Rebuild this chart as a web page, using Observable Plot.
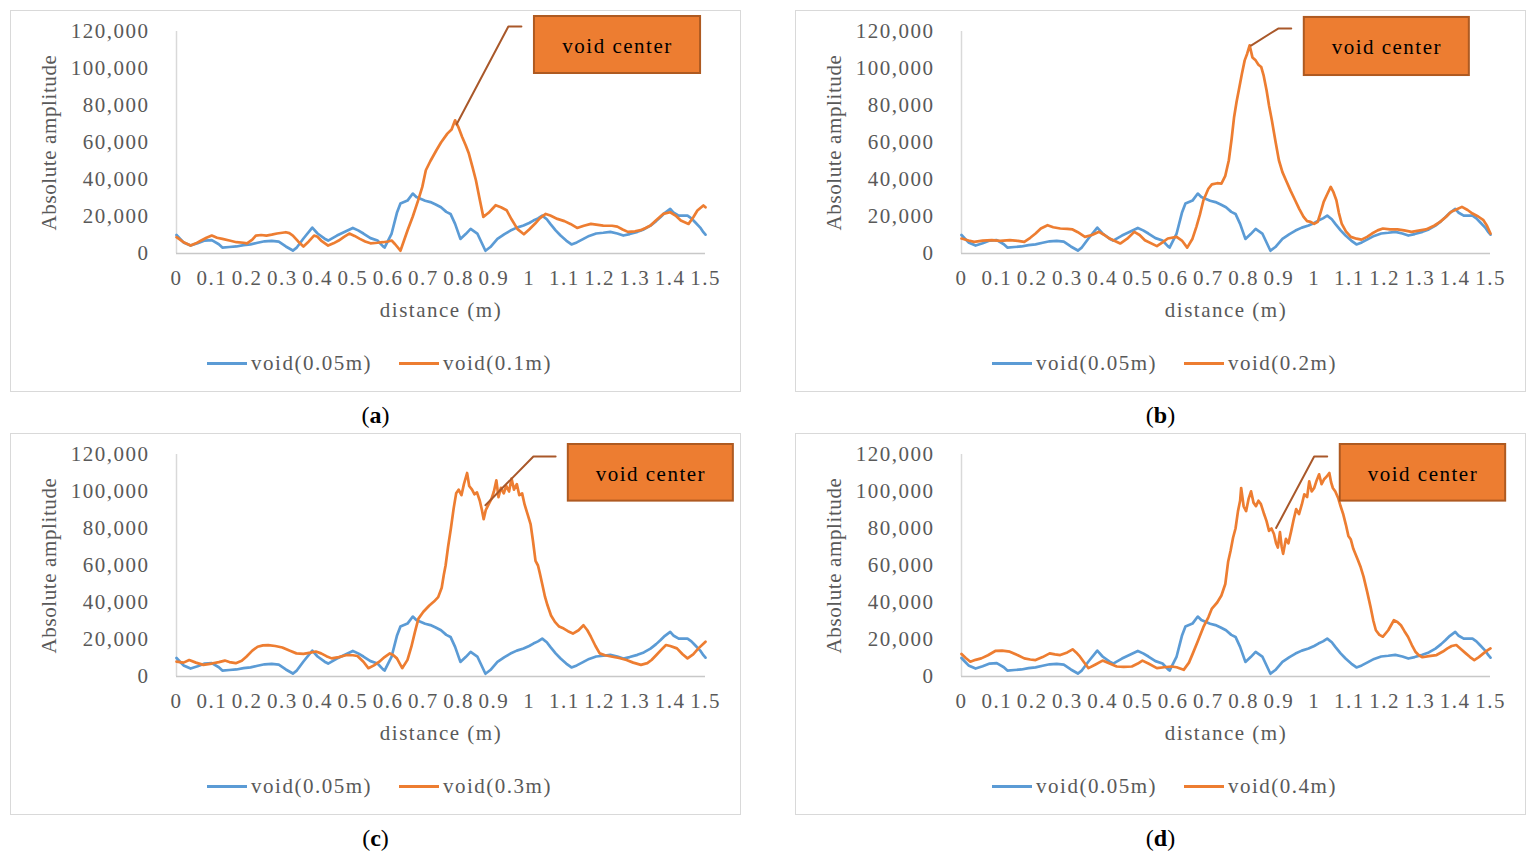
<!DOCTYPE html>
<html>
<head>
<meta charset="utf-8">
<script src="https://cdn.jsdelivr.net/npm/d3@7"></script>
<script src="https://cdn.jsdelivr.net/npm/@observablehq/plot@0.6"></script>
<style>
  html, body { margin: 0; padding: 0; background: #fff; }
  #page { position: relative; width: 1536px; height: 862px; overflow: hidden; font-family: 'Liberation Serif', 'Times New Roman', serif; }
  .frame { position: absolute; box-sizing: border-box; width: 731px; height: 382px; border: 1px solid #d9d9d9; background: #fff; }
  .frame svg { position: absolute; left: 0; top: 0; }
  .legend { position: absolute; left: 0; width: 100%; box-sizing: border-box; padding-left: 8px; top: 340px; height: 24px; display: flex; justify-content: center; align-items: center; gap: 27px; font-size: 21px; letter-spacing: 1.5px; color: #595959; }
  .legend .item { display: flex; align-items: center; }
  .legend .sw { display: inline-block; width: 40px; height: 3px; margin-right: 4px; }
  .plabel { position: absolute; width: 731px; text-align: center; font-size: 24px; color: #000; line-height: 28px; }
</style>
</head>
<body>
<div id="page"></div>
<script>
// ---------------- data ----------------
const xTicks = [0, 0.1, 0.2, 0.3, 0.4, 0.5, 0.6, 0.7, 0.8, 0.9, 1, 1.1, 1.2, 1.3, 1.4, 1.5];
const yTicks = [0, 20000, 40000, 60000, 80000, 100000, 120000];
const panelLetters = ["a", "b", "c", "d"];
const seriesNames = ["void(0.05m)", "void(0.1m)", "void(0.2m)", "void(0.3m)", "void(0.4m)"];

// void(0.05m) — same curve in every panel
const distBlue = [0.00,0.01,0.02,0.04,0.06,0.08,0.10,0.12,0.13,0.15,0.17,0.19,0.21,0.23,0.25,0.27,0.29,0.31,0.33,0.34,0.36,0.385,0.40,0.42,0.43,0.455,0.485,0.50,0.515,0.53,0.55,0.57,0.585,0.59,0.61,0.625,0.635,0.655,0.67,0.68,0.69,0.705,0.72,0.735,0.75,0.765,0.777,0.79,0.805,0.82,0.834,0.853,0.876,0.89,0.91,0.93,0.947,0.965,0.984,1.0,1.012,1.025,1.037,1.05,1.06,1.075,1.089,1.105,1.12,1.135,1.154,1.17,1.19,1.21,1.23,1.25,1.267,1.285,1.307,1.325,1.344,1.36,1.372,1.385,1.40,1.41,1.424,1.449,1.46,1.47,1.485,1.494,1.50];
const ampBlue = [10000,8000,6000,4300,5500,7000,7200,5000,3200,3500,3800,4500,4900,5800,6600,6800,6400,3800,1600,3000,8100,14000,10800,8000,7000,9700,12400,13800,12500,10800,8300,7000,4000,3200,10800,22000,27000,28600,32400,30500,29700,28500,27800,26500,25000,22500,21400,16000,7900,10500,13300,10800,1500,3500,7900,10500,12400,14000,15100,16500,17800,19000,20500,18500,16000,12500,9700,7000,4900,6000,7900,9500,10800,11200,11700,10800,9700,10500,11700,13000,15100,17500,19600,22000,24100,22000,20500,20500,19000,17000,14000,11500,10200];

// void(0.1m)
const dist01 = [0.00,0.01,0.02,0.04,0.055,0.07,0.085,0.10,0.115,0.13,0.15,0.17,0.19,0.20,0.215,0.225,0.24,0.255,0.27,0.285,0.30,0.31,0.32,0.33,0.345,0.36,0.375,0.39,0.40,0.41,0.43,0.445,0.46,0.475,0.49,0.505,0.52,0.535,0.55,0.57,0.585,0.60,0.61,0.62,0.635,0.655,0.67,0.685,0.697,0.707,0.72,0.737,0.75,0.768,0.78,0.79,0.80,0.81,0.82,0.829,0.839,0.849,0.86,0.87,0.885,0.905,0.92,0.936,0.95,0.967,0.985,1.0,1.017,1.03,1.047,1.06,1.08,1.10,1.117,1.136,1.155,1.175,1.19,1.21,1.235,1.25,1.265,1.28,1.30,1.316,1.33,1.344,1.36,1.38,1.40,1.415,1.43,1.452,1.465,1.477,1.494,1.50];
const amp01 = [8800,7500,6100,4300,5500,7000,8500,9700,8500,7900,7000,6100,5800,5500,7500,9700,10000,9700,10200,10800,11200,11500,11000,9700,6500,3800,6500,9700,9000,7000,4300,5500,7000,9000,10800,9500,7900,6500,5500,5800,6100,6500,7000,5000,1500,12400,20000,28600,36000,45000,50000,55800,60000,64800,67000,72000,68000,63000,58500,54000,47000,39600,29000,19800,22000,26100,25000,23400,18500,13200,10400,13000,16200,19000,21400,20500,18700,17500,16000,13800,15000,16000,15600,15100,15000,14500,13000,11700,12000,12600,13800,15100,18000,21400,22300,20500,17800,16000,19500,23200,26000,25000];

// void(0.2m)
const dist02 = [0.00,0.02,0.036,0.06,0.086,0.11,0.137,0.16,0.178,0.195,0.21,0.225,0.244,0.26,0.28,0.30,0.315,0.33,0.35,0.37,0.39,0.405,0.42,0.45,0.47,0.49,0.505,0.52,0.554,0.57,0.585,0.61,0.625,0.64,0.655,0.666,0.676,0.686,0.70,0.71,0.725,0.737,0.748,0.758,0.766,0.773,0.78,0.788,0.795,0.803,0.81,0.817,0.825,0.834,0.842,0.85,0.857,0.865,0.872,0.88,0.89,0.90,0.91,0.92,0.933,0.946,0.958,0.97,0.98,0.99,1.0,1.01,1.018,1.027,1.037,1.047,1.055,1.063,1.07,1.078,1.09,1.104,1.12,1.134,1.15,1.164,1.18,1.195,1.215,1.236,1.255,1.276,1.30,1.317,1.34,1.357,1.375,1.388,1.40,1.419,1.435,1.449,1.465,1.48,1.49,1.50];
const amp02 = [8100,7000,6300,7000,7200,6800,7200,6800,6300,8500,10800,13500,15300,14200,13500,13300,13000,11500,9000,10000,11700,10000,8100,5400,8000,11700,10000,7200,4000,6000,8100,9000,7000,3200,8000,14400,21000,28800,35000,37400,38000,37800,42000,50400,62000,73800,82000,90000,97000,104400,108000,112500,106000,104400,102000,100800,96000,88200,80000,72000,61000,50400,44000,39600,34000,28800,24000,19800,17500,17100,16000,17100,22000,27900,32000,36000,33000,28800,22000,16200,12000,9000,8000,7500,9000,10800,12500,13500,13000,13000,12500,11700,12500,13000,15000,17100,20000,22500,23500,25200,23500,21600,20000,18000,15000,10800];

// void(0.3m)
const dist03 = [0.00,0.02,0.036,0.055,0.076,0.10,0.12,0.137,0.15,0.168,0.185,0.198,0.215,0.23,0.245,0.26,0.28,0.30,0.32,0.34,0.36,0.38,0.395,0.41,0.425,0.44,0.46,0.483,0.50,0.513,0.53,0.544,0.56,0.575,0.59,0.605,0.615,0.625,0.64,0.655,0.666,0.676,0.686,0.70,0.717,0.73,0.742,0.752,0.758,0.763,0.77,0.778,0.786,0.793,0.80,0.808,0.815,0.824,0.83,0.838,0.845,0.852,0.86,0.866,0.871,0.877,0.885,0.893,0.90,0.907,0.913,0.92,0.928,0.935,0.943,0.95,0.957,0.965,0.972,0.98,0.987,0.995,1.004,1.011,1.018,1.025,1.03,1.037,1.045,1.052,1.062,1.073,1.085,1.098,1.11,1.124,1.14,1.154,1.165,1.175,1.188,1.20,1.215,1.236,1.255,1.276,1.295,1.317,1.335,1.347,1.36,1.375,1.388,1.40,1.419,1.435,1.449,1.465,1.48,1.50];
const amp03 = [8000,7500,8900,7500,6300,7000,7800,8600,7800,7200,8500,10700,14000,16100,16800,17000,16500,15700,14000,12500,12200,12900,13500,12500,11000,9800,10500,11600,11500,11100,8000,4500,6000,8000,10500,12500,11500,9800,4500,9000,16100,24000,31300,35000,38400,40500,42900,48000,55000,60000,70000,80000,91000,99000,101000,98000,104000,110000,103000,101000,98500,99500,95000,90000,85000,90000,93000,96000,100000,106000,97000,102000,99000,103000,100000,107000,101000,104000,98000,99000,93000,88000,82400,73000,62500,60000,56000,50000,43000,38500,33000,29500,27000,25900,24500,23200,25000,27700,25000,21500,16500,12500,11500,10700,10000,8900,7500,6300,7200,8900,11500,14500,17000,16500,15200,12000,9800,12000,15200,18800];

// void(0.4m)
const dist04 = [0.00,0.012,0.025,0.04,0.056,0.075,0.097,0.115,0.137,0.16,0.178,0.195,0.21,0.23,0.25,0.265,0.28,0.30,0.315,0.325,0.336,0.35,0.36,0.38,0.40,0.42,0.44,0.46,0.483,0.50,0.513,0.53,0.554,0.575,0.595,0.61,0.63,0.645,0.656,0.67,0.686,0.70,0.71,0.725,0.737,0.748,0.756,0.763,0.77,0.777,0.784,0.79,0.793,0.80,0.807,0.814,0.821,0.828,0.835,0.842,0.849,0.858,0.865,0.872,0.879,0.886,0.892,0.897,0.903,0.908,0.912,0.92,0.927,0.935,0.942,0.949,0.957,0.965,0.972,0.98,0.986,0.993,1.0,1.007,1.014,1.021,1.028,1.035,1.043,1.048,1.053,1.06,1.068,1.075,1.082,1.09,1.097,1.104,1.111,1.124,1.132,1.14,1.15,1.16,1.168,1.175,1.185,1.195,1.21,1.226,1.236,1.246,1.256,1.266,1.277,1.287,1.297,1.307,1.325,1.347,1.365,1.378,1.39,1.403,1.415,1.43,1.442,1.454,1.467,1.48,1.49,1.50];
const amp04 = [12200,10000,8000,9000,9800,11500,13900,14000,13400,11500,9800,9200,8900,10500,12500,12000,11600,13000,14700,13000,10700,7000,4500,6500,8600,7000,5400,5200,5400,7000,8600,7000,4500,5000,5400,5000,3600,7500,12500,19000,26800,32000,36700,40000,43800,50000,62000,68000,75000,80000,89400,95000,101900,92000,89400,96000,100100,94000,92100,95000,93200,87800,84000,78700,80000,77000,72000,69700,78000,70000,66300,74400,72000,78700,85000,90500,87800,93000,98500,97000,105500,100000,101900,106000,109300,104000,106600,108000,110000,105000,101900,100000,96500,92000,88000,82000,76000,74000,69000,63000,59000,54000,46000,37500,30000,25000,22500,21500,25000,30400,29500,27700,24500,21500,17000,13400,11500,10400,11000,11600,13500,15200,16500,17000,15000,12500,10500,8900,10500,12500,14000,15200];

// "void center" callouts (leader: tip, elbow, end; box: x1, x2, y1, y2), in data units
const calloutText = "void center";
const leaderX = [[0.794, 0.941, 0.978], [0.821, 0.898, 0.935], [0.876, 1.012, 1.075], [0.892, 1.000, 1.037]];
const leaderY = [[69700, 122700, 122700], [112400, 121600, 121600], [92600, 118900, 118900], [80300, 118900, 118900]];
const boxX = [[1.015, 1.486], [0.972, 1.440], [1.111, 1.579], [1.074, 1.543]];
const boxY = [[97300, 128100], [96200, 127600], [94800, 125400], [94800, 125400]];

// ---------------- drawing ----------------
const FONT = "'Liberation Serif', 'Times New Roman', serif";
const BLUE = "#5B9BD5", ORANGE = "#ED7D31", BROWN = "#A9582A";
const orangeDist = [dist01, dist02, dist03, dist04];
const orangeAmp = [amp01, amp02, amp03, amp04];
const framePos = [[10, 10], [795, 10], [10, 433], [795, 433]];

const toRows = (xs, ys) => xs.map((x, i) => ({x, y: ys[i]}));
const blueRows = toRows(distBlue, ampBlue);
const page = document.getElementById("page");

for (let p = 0; p < 4; p++) {
  const orangeRows = toRows(orangeDist[p], orangeAmp[p]);
  const leader = toRows(leaderX[p], leaderY[p]);
  const box = [{x1: boxX[p][0], x2: boxX[p][1], y1: boxY[p][0], y2: boxY[p][1]}];

  const chart = Plot.plot({
    width: 729,
    height: 312,
    marginLeft: 165,
    marginRight: 35,
    marginTop: 20,
    marginBottom: 70,
    style: {fontFamily: FONT, fontSize: "21px", color: "#595959", background: "white", letterSpacing: "1.5px", overflow: "visible"},
    x: {domain: [0, 1.5], ticks: xTicks, tickFormat: d => String(+d.toFixed(1)), tickSize: 0, tickPadding: 17, label: null},
    y: {domain: [0, 120000], ticks: yTicks, tickFormat: d3.format(","), tickSize: 0, tickPadding: 27, label: null},
    marks: [
      Plot.ruleX([0], {stroke: "#d9d9d9", strokeWidth: 1.5}),
      Plot.ruleY([0], {stroke: "#c8c8c8", strokeWidth: 1.5}),
      Plot.line(blueRows, {x: "x", y: "y", stroke: BLUE, strokeWidth: 2.7}),
      Plot.line(orangeRows, {x: "x", y: "y", stroke: ORANGE, strokeWidth: 2.7}),
      Plot.line(leader, {x: "x", y: "y", stroke: BROWN, strokeWidth: 2}),
      Plot.rect(box, {x1: "x1", x2: "x2", y1: "y1", y2: "y2", fill: ORANGE, stroke: "#AE5A21", strokeWidth: 2}),
      Plot.text(box, {x: d => (d.x1 + d.x2) / 2, y: d => (d.y1 + d.y2) / 2, text: () => calloutText, fill: "#000", fontSize: 21, dy: 1}),
      Plot.text(["distance (m)"], {frameAnchor: "bottom", dy: 63, text: d => d, fill: "#595959", fontSize: 21}),
      Plot.text(["Absolute amplitude"], {frameAnchor: "left", textAnchor: "middle", dx: -127, rotate: -90, text: d => d, fill: "#595959", fontSize: 21, style: {letterSpacing: "0.6px"}})
    ]
  });

  // y-title: slightly tighter spacing, like the reference
  chart.querySelectorAll("text").forEach(t => { if (t.textContent === "Absolute amplitude") t.style.letterSpacing = "0.6px"; });

  const frame = document.createElement("div");
  frame.className = "frame";
  frame.style.left = framePos[p][0] + "px";
  frame.style.top = framePos[p][1] + "px";
  frame.appendChild(chart);

  const legend = document.createElement("div");
  legend.className = "legend";
  [[BLUE, seriesNames[0]], [ORANGE, seriesNames[p + 1]]].forEach(([c, name]) => {
    const item = document.createElement("div");
    item.className = "item";
    const sw = document.createElement("span");
    sw.className = "sw";
    sw.style.background = c;
    const t = document.createElement("span");
    t.textContent = name;
    item.appendChild(sw);
    item.appendChild(t);
    legend.appendChild(item);
  });
  frame.appendChild(legend);
  page.appendChild(frame);

  const lab = document.createElement("div");
  lab.className = "plabel";
  lab.style.left = framePos[p][0] + "px";
  lab.style.top = (framePos[p][1] + 391) + "px";
  lab.innerHTML = "(<b>" + panelLetters[p] + "</b>)";
  page.appendChild(lab);
}
</script>
</body>
</html>
